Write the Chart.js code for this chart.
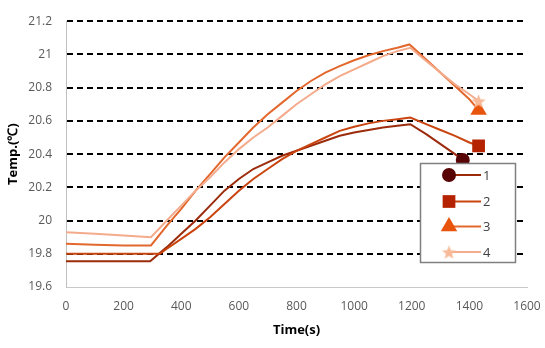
<!DOCTYPE html>
<html>
<head>
<meta charset="utf-8">
<script src="https://cdn.jsdelivr.net/npm/chart.js@4.4.1/dist/chart.umd.min.js"></script>
<style>
  html, body { margin: 0; padding: 0; background: #fff; }
  #wrap { width: 545px; height: 348px; }
</style>
</head>
<body>
<div id="wrap"><canvas id="chart" width="545" height="348"></canvas></div>
<script>
// Series labels
const seriesNames = ["1", "2", "3", "4"];

// Time (s) and temperature (℃)
const times1 = [0, 100, 200, 292, 350, 400, 450, 500, 550, 600, 650, 700, 750, 800, 850, 900, 950, 1000, 1050, 1100, 1150, 1195, 1250, 1300, 1350, 1377];
const temps1 = [19.755, 19.755, 19.755, 19.755, 19.84, 19.92, 20.0, 20.09, 20.18, 20.25, 20.31, 20.35, 20.39, 20.42, 20.45, 20.48, 20.51, 20.53, 20.545, 20.56, 20.57, 20.58, 20.52, 20.46, 20.40, 20.365];

const times2 = [0, 100, 200, 326, 350, 400, 450, 500, 550, 600, 650, 700, 750, 800, 850, 900, 950, 1000, 1050, 1100, 1150, 1195, 1250, 1300, 1350, 1400, 1432];
const temps2 = [19.80, 19.80, 19.80, 19.80, 19.83, 19.89, 19.95, 20.02, 20.10, 20.18, 20.25, 20.31, 20.37, 20.42, 20.46, 20.50, 20.54, 20.565, 20.585, 20.60, 20.61, 20.62, 20.58, 20.545, 20.51, 20.47, 20.45];

const times3 = [0, 100, 200, 295, 350, 400, 450, 500, 550, 600, 650, 700, 750, 800, 850, 900, 950, 1000, 1050, 1100, 1150, 1192, 1250, 1300, 1350, 1400, 1432];
const temps3 = [19.86, 19.855, 19.85, 19.85, 19.97, 20.07, 20.18, 20.28, 20.38, 20.47, 20.56, 20.64, 20.71, 20.78, 20.84, 20.89, 20.93, 20.965, 20.995, 21.02, 21.04, 21.06, 20.97, 20.89, 20.81, 20.73, 20.665];

const times4 = [0, 100, 200, 295, 350, 400, 450, 500, 550, 600, 650, 700, 750, 800, 850, 900, 950, 1000, 1050, 1100, 1150, 1195, 1250, 1300, 1350, 1400, 1432];
const temps4 = [19.93, 19.92, 19.91, 19.90, 20.0, 20.09, 20.18, 20.26, 20.35, 20.43, 20.50, 20.56, 20.63, 20.70, 20.76, 20.82, 20.87, 20.91, 20.95, 20.99, 21.02, 21.04, 20.96, 20.89, 20.82, 20.76, 20.72];

const lineColors = ["#9c2b0b", "#c9440f", "#e2682d", "#f4ab8c"];
const markerColors = ["#5a0505", "#b52200", "#e8540c", "#f8b999"];

function toPoints(xs, ys) {
  return xs.map((x, i) => ({ x, y: ys[i] }));
}

function starCanvas(size, color) {
  const c = document.createElement("canvas");
  c.width = size;
  c.height = size;
  const g = c.getContext("2d");
  const cx = size / 2, cy = size / 2 + 0.8;
  g.beginPath();
  for (let i = 0; i < 10; i++) {
    const r = i % 2 ? size * 0.21 : size * 0.5;
    const a = -Math.PI / 2 + i * Math.PI / 5;
    const px = cx + Math.cos(a) * r, py = cy + Math.sin(a) * r;
    if (i === 0) g.moveTo(px, py); else g.lineTo(px, py);
  }
  g.closePath();
  g.fillStyle = color;
  g.fill();
  return c;
}

const star = starCanvas(15, markerColors[3]);
const styles = ["circle", "rect", "triangle", star];
const radii = [7, 9, 9.5, 7.5];

function lastOnly(r) {
  return ctx => (ctx.dataIndex === ctx.dataset.data.length - 1 ? r : 0);
}

const allSeries = [[times1, temps1], [times2, temps2], [times3, temps3], [times4, temps4]];

// draw series 4 first so the darker lines sit on top
const datasets = allSeries.map((s, i) => ({
  label: seriesNames[i],
  data: toPoints(s[0], s[1]),
  borderColor: lineColors[i],
  borderWidth: 2,
  backgroundColor: markerColors[i],
  pointStyle: styles[i],
  pointRadius: lastOnly(radii[i]),
  pointHoverRadius: lastOnly(radii[i]),
  pointBorderWidth: 0,
  pointBorderColor: markerColors[i],
  pointBackgroundColor: markerColors[i],
  tension: 0,
  order: 4 - i
}));

const boxLegend = {
  id: "boxLegend",
  afterDatasetsDraw(chart) {
    const ctx = chart.ctx;
    ctx.save();
    ctx.fillStyle = "#ffffff";
    ctx.fillRect(420, 163, 95, 100);
    ctx.strokeStyle = "#808080";
    ctx.lineWidth = 1.5;
    ctx.strokeRect(420.5, 163.5, 95, 99);
    const rowsY = [175, 201.5, 226.5, 252];
    rowsY.forEach((y, i) => {
      ctx.strokeStyle = lineColors[i];
      ctx.lineWidth = 2;
      ctx.beginPath();
      ctx.moveTo(449, y);
      ctx.lineTo(481, y);
      ctx.stroke();
      ctx.fillStyle = markerColors[i];
      ctx.strokeStyle = markerColors[i];
      Chart.helpers.drawPoint(ctx, { pointStyle: styles[i], radius: radii[i], rotation: 0, borderWidth: 0 }, 449, y);
      ctx.fillStyle = "#404040";
      ctx.font = "13px 'Open Sans'";
      ctx.textAlign = "left";
      ctx.textBaseline = "middle";
      ctx.fillText(seriesNames[i], 483, y + 1);
    });
    ctx.restore();
  }
};

const tickFont = { family: "'Open Sans'", size: 12 };
const titleFont = { family: "'Open Sans'", size: 13, weight: "bold" };

new Chart(document.getElementById("chart"), {
  type: "line",
  data: { datasets },
  plugins: [boxLegend],
  options: {
    responsive: false,
    animation: false,
    events: [],
    layout: { padding: { left: 0, right: 0, top: 15, bottom: 0 } },
    plugins: { legend: { display: false }, tooltip: { enabled: false } },
    scales: {
      x: {
        type: "linear",
        min: 0,
        max: 1600,
        ticks: { stepSize: 200, color: "#595959", font: tickFont, padding: 12, maxRotation: 0, callback: v => String(v) },
        grid: { display: false, drawTicks: false },
        border: { display: true, color: "#c8c8c8", width: 1 },
        title: { display: true, text: "Time(s)", color: "#000", font: titleFont, padding: { top: 0, bottom: 10 } },
        afterFit(scale) {
          scale.height = 61;
          scale.paddingRight = 18;
          scale.paddingLeft = 0;
        }
      },
      y: {
        type: "linear",
        min: 19.6,
        max: 21.2,
        ticks: {
          stepSize: 0.2,
          color: "#595959",
          font: tickFont,
          padding: 14,
          callback: v => String(Math.round(v * 10) / 10)
        },
        grid: {
          drawTicks: false,
          color: ctx => (ctx.tick && Math.abs(ctx.tick.value - 19.6) < 1e-6 ? "rgba(0,0,0,0)" : "#000"),
          lineWidth: 2
        },
        border: { display: true, color: "#c0c0c0", width: 1, dash: [6, 4] },
        title: { display: true, text: "Temp.(℃)", color: "#000", font: titleFont, padding: { top: 5, bottom: 0 } },
        afterFit(scale) { scale.width = 66; }
      }
    }
  }
});
</script>
</body>
</html>
